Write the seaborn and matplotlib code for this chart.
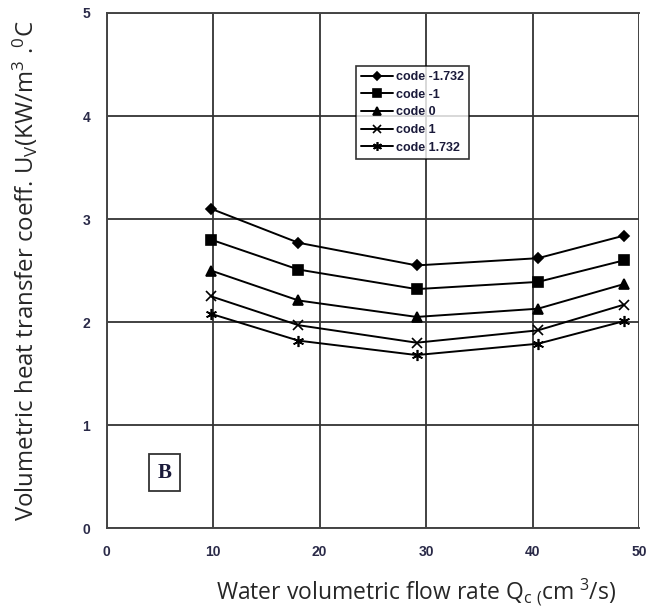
import matplotlib
matplotlib.use("Agg")
import matplotlib.pyplot as plt
import seaborn as sns
import pandas as pd

# ---- data ----
flow = [9.8, 18.0, 29.1, 40.5, 48.6]
codes = ["code -1.732", "code -1", "code 0", "code 1", "code 1.732"]
u_m1732 = [3.10, 2.77, 2.55, 2.62, 2.84]
u_m1 = [2.80, 2.51, 2.32, 2.39, 2.60]
u_0 = [2.50, 2.21, 2.05, 2.13, 2.37]
u_p1 = [2.25, 1.97, 1.80, 1.92, 2.17]
u_p1732 = [2.08, 1.82, 1.68, 1.79, 2.01]
x_ticks = [0, 10, 20, 30, 40, 50]
y_ticks = [0, 1, 2, 3, 4, 5]

series = [u_m1732, u_m1, u_0, u_p1, u_p1732]
markers = ["D", "s", "^", "x", (6, 2, 0)]
msizes = [5, 7, 7, 7, 8]

sns.set_theme(style="white")
plt.rcParams["font.family"] = ["Liberation Sans", "DejaVu Sans"]
plt.rcParams["mathtext.default"] = "regular"

fig = plt.figure(figsize=(6.61, 6.12), dpi=100)
ax = fig.add_axes([0.1614, 0.137, 0.967 - 0.1614, 0.9788 - 0.137])

for name, vals, mk, ms in zip(codes, series, markers, msizes):
    df = pd.DataFrame({"flow": flow, "U": vals})
    sns.lineplot(data=df, x="flow", y="U", ax=ax, color="black", linewidth=1.4,
                 marker=mk, markersize=ms, markeredgecolor="black",
                 markerfacecolor="black", markeredgewidth=1.2, label=name)

ax.set_xlim(0, 50)
ax.set_ylim(0, 5)
ax.set_xticks(x_ticks)
ax.set_yticks(y_ticks)
ax.grid(True, color="#333333", linewidth=1.3)
ax.set_axisbelow(True)
for s in ax.spines.values():
    s.set_color("#444444")
    s.set_linewidth(1.4)
ax.spines["right"].set_visible(False)
ax.tick_params(axis="both", length=0, pad=12, labelsize=10, labelcolor="#2a2a48")
for lab in ax.get_xticklabels() + ax.get_yticklabels():
    lab.set_fontweight("bold")

ax.set_xlabel("Water volumetric flow rate Q$_{c\\ (}$cm$^{\\ 3}$/s)",
              fontsize=16.5, family=["Open Sans", "DejaVu Sans"])
ax.set_ylabel("Volumetric heat transfer coeff. U$_{V}$(KW/m$^{3}$ .$^{0}$C",
              fontsize=17.3, family=["Open Sans", "DejaVu Sans"])
ax.yaxis.set_label_coords(-0.125, 0.5)
ax.xaxis.set_label_coords(0.58, -0.095)

ax.text(0.108, 0.108, "B", transform=ax.transAxes, fontsize=15, fontweight="bold",
        family=["Liberation Serif", "DejaVu Serif"], color="#1a1a3a",
        ha="center", va="center",
        bbox=dict(boxstyle="square,pad=0.4", facecolor="white", edgecolor="#333333", linewidth=1.3))

leg = ax.legend(loc="upper left", bbox_to_anchor=(0.469, 0.897), borderaxespad=0,
                frameon=True, fancybox=False, shadow=False, fontsize=9,
                handlelength=2.5, handletextpad=0.3, labelspacing=0.45,
                borderpad=0.4, markerscale=0.8)
leg.get_frame().set_edgecolor("black")
leg.get_frame().set_linewidth(1.2)
for t in leg.get_texts():
    t.set_fontweight("bold")
    t.set_color("#1a1a3a")

fig.savefig("out.png", dpi=100)
